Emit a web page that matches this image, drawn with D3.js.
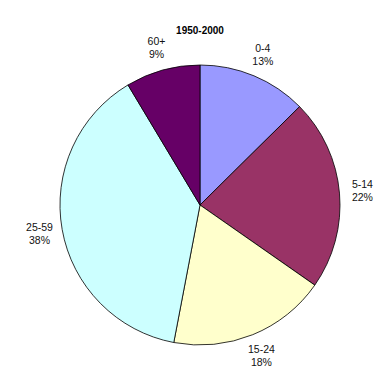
<!DOCTYPE html>
<html>
<head>
<meta charset="utf-8">
<script src="https://cdn.jsdelivr.net/npm/d3@7"></script>
<style>
  html, body { margin: 0; padding: 0; background: #fff; }
  text { font-family: Arial, "Liberation Sans", sans-serif; }
</style>
</head>
<body>
<div id="chart"></div>
<script>
// slices in clockwise order starting at 12 o'clock
const categories = ['0-4', '5-14', '15-24', '25-59', '60+'];
const shares = [12.6, 22.1, 18.3, 38.4, 8.6];
const colors = ['#9999FF', '#993366', '#FFFFCC', '#CCFFFF', '#660066'];
const title = '1950-2000';

const width = 390, height = 390;
const cx = 200, cy = 205, radius = 140;

const svg = d3.select('#chart')
  .append('svg')
  .attr('width', width)
  .attr('height', height);

svg.append('text')
  .attr('x', cx)
  .attr('y', 34)
  .attr('text-anchor', 'middle')
  .attr('font-size', 10)
  .attr('font-weight', 'bold')
  .text(title);

const data = categories.map((c, i) => ({ cat: c, value: shares[i], color: colors[i] }));
const total = d3.sum(shares);

const pie = d3.pie()
  .sort(null)
  .value(d => d.value);

const arc = d3.arc()
  .innerRadius(0)
  .outerRadius(radius);

const labelArc = d3.arc()
  .innerRadius(radius + 23)
  .outerRadius(radius + 23);

const g = svg.append('g')
  .attr('transform', `translate(${cx},${cy})`);

const arcs = pie(data);

g.selectAll('path')
  .data(arcs)
  .join('path')
  .attr('d', arc)
  .attr('fill', d => d.data.color)
  .attr('stroke', '#000')
  .attr('stroke-width', 0.8);

const labels = g.selectAll('.label')
  .data(arcs)
  .join('text')
  .attr('class', 'label')
  .attr('transform', d => `translate(${labelArc.centroid(d)})`)
  .attr('text-anchor', 'middle')
  .attr('font-size', 10.5)
  .attr('fill', '#111');

labels.append('tspan')
  .attr('x', 0)
  .attr('y', -3)
  .text(d => d.data.cat);

labels.append('tspan')
  .attr('x', 0)
  .attr('y', 10)
  .text(d => Math.round(d.data.value / total * 100) + '%');
</script>
</body>
</html>
